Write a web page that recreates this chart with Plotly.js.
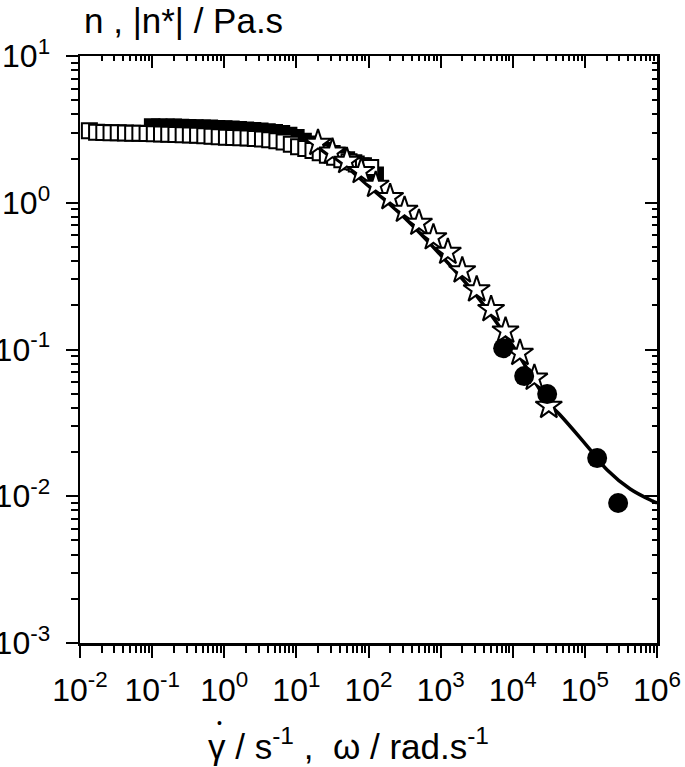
<!DOCTYPE html>
<html>
<head>
<meta charset="utf-8">
<script src="https://cdn.plot.ly/plotly-3.0.1.min.js"></script>
<style>
  body { margin: 0; background: #fff; }
  #viscosityPlot { width: 685px; height: 767px; }
</style>
</head>
<body>
<div id="viscosityPlot"></div>
<script>
// open squares (steady shear, first series)
const openSqRate = [0.01349, 0.01698, 0.02138, 0.02692, 0.03388, 0.04266, 0.05370, 0.06761, 0.08511, 0.1072,
    0.1349, 0.1698, 0.2138, 0.2692, 0.3388, 0.4266, 0.5370, 0.6761, 0.8511, 1.072,
    1.349, 1.698, 2.138, 2.692, 3.388, 4.266, 5.370, 6.761, 8.511, 10.72,
    13.49, 16.98, 21.38, 26.92, 33.88, 42.66, 53.70, 67.61, 85.11, 107.2];
const openSqVisc = [3.10, 3.02, 3.01, 3.00, 3.00, 2.99, 2.98, 2.97, 2.96, 2.95,
    2.94, 2.93, 2.92, 2.91, 2.90, 2.88, 2.86, 2.84, 2.82, 2.80,
    2.78, 2.77, 2.76, 2.74, 2.72, 2.69, 2.65, 2.59, 2.50, 2.41,
    2.34, 2.27, 2.19, 2.11, 2.04, 1.96, 1.90, 1.84, 1.79, 1.74];

// filled squares (steady shear, second series)
const fillSqRate = [0.1, 0.1259, 0.1585, 0.1995, 0.2512, 0.3162, 0.3981, 0.5012, 0.631, 0.7943,
    1, 1.259, 1.585, 1.995, 2.512, 3.162, 3.981, 5.012, 6.31, 7.943,
    10, 12.59, 15.85, 19.95, 25.12, 31.62, 39.81, 50.12, 63.1, 79.43, 100, 125.9];
const fillSqVisc = [3.31, 3.30, 3.30, 3.29, 3.28, 3.27, 3.26, 3.25, 3.24, 3.22,
    3.21, 3.19, 3.17, 3.14, 3.12, 3.10, 3.06, 3.02, 2.97, 2.90,
    2.80, 2.64, 2.52, 2.40, 2.28, 2.17, 2.07, 1.97, 1.88, 1.79, 1.68, 1.55];

// stars (oscillatory, |n*|)
const starFreq = [19.95, 31.62, 50.12, 79.43, 125.9, 199.5, 316.2, 501.2, 794.3, 1259,
    1995, 3162, 5012, 7943, 12590, 19950, 31620];
const starVisc = [2.55, 2.22, 1.92, 1.64, 1.32, 1.09, 0.893, 0.728, 0.580, 0.462,
    0.345, 0.256, 0.188, 0.134, 0.0946, 0.064, 0.0412];

// filled circles (high frequency)
const circleFreq = [7360, 14400, 30000, 148000, 289000];
const circleVisc = [0.102, 0.0659, 0.0497, 0.0182, 0.0090];

// fitted curve
const fitRate = [0.1, 0.316, 1, 3.16, 10, 31.6, 100, 316, 1000, 3160, 10000, 31600,
    45400, 86100, 148000, 204000, 425000, 857000, 1000000];
const fitVisc = [3.35, 3.32, 3.22, 3.02, 2.72, 2.08, 1.30, 0.79, 0.44, 0.232, 0.106, 0.0431,
    0.0358, 0.0250, 0.0182, 0.0151, 0.0112, 0.0093, 0.0090];

const xExp = [-2, -1, 0, 1, 2, 3, 4, 5, 6];
const yExp = [-3, -2, -1, 0, 1];

const font = 'Liberation Sans, Arial, sans-serif';

function minorTicks(exps) {
    const vals = [];
    for (let i = 0; i < exps.length - 1; i++) {
        for (let m = 2; m <= 9; m++) vals.push(m * Math.pow(10, exps[i]));
    }
    return vals;
}

function logAxis(exps, opts) {
    return Object.assign({
        type: 'log',
        range: [exps[0], exps[exps.length - 1]],
        tickmode: 'array',
        tickvals: exps.map(e => Math.pow(10, e)),
        ticktext: exps.map(e => '10<sup>' + e + '</sup>'),
        ticks: 'outside',
        ticklen: 12,
        tickwidth: 2,
        tickcolor: '#000',
        showline: true,
        linewidth: 2.5,
        linecolor: '#000',
        showgrid: false,
        zeroline: false,
        tickfont: { family: font, size: 32, color: '#000' },
        minor: {
            tickmode: 'array',
            tickvals: minorTicks(exps),
            ticks: 'outside',
            ticklen: 7,
            tickwidth: 2,
            tickcolor: '#000',
            showgrid: false
        }
    }, opts);
}

var fit = {
    x: fitRate, y: fitVisc,
    type: 'scatter', mode: 'lines',
    line: { color: '#000', width: 3.5, shape: 'spline', smoothing: 1 },
    hoverinfo: 'none'
};

var filledSquares = {
    x: fillSqRate, y: fillSqVisc,
    type: 'scatter', mode: 'markers',
    marker: { symbol: 'square', size: 15, color: '#000', line: { color: '#000', width: 1.5 } }
};

var openSquares = {
    x: openSqRate, y: openSqVisc,
    type: 'scatter', mode: 'markers',
    marker: { symbol: 'square', size: 15, color: '#fff', line: { color: '#000', width: 2 } }
};

var stars = {
    x: starFreq, y: starVisc,
    type: 'scatter', mode: 'markers',
    marker: { symbol: 'star', size: 20, color: '#fff', line: { color: '#000', width: 2 } }
};

var circles = {
    x: circleFreq, y: circleVisc,
    type: 'scatter', mode: 'markers',
    marker: { symbol: 'circle', size: 20, color: '#000' }
};

// empty trace so the top/right frame axes get drawn
var frame = { x: [], y: [], type: 'scatter', mode: 'markers', xaxis: 'x2', yaxis: 'y2', hoverinfo: 'none' };

var data = [fit, filledSquares, openSquares, stars, circles, frame];

var layout = {
    width: 685,
    height: 767,
    margin: { l: 80, r: 28, t: 56, b: 124 },
    paper_bgcolor: '#fff',
    plot_bgcolor: '#fff',
    showlegend: false,
    font: { family: font, color: '#000' },
    xaxis: logAxis(xExp, { ticklabelstandoff: 5 }),
    yaxis: logAxis(yExp, { ticklabelstandoff: 9 }),
    // top and right frame with inward ticks
    xaxis2: logAxis(xExp, {
        overlaying: 'x', side: 'top', anchor: 'y2',
        showticklabels: false, ticks: 'inside',
        minor: { tickmode: 'array', tickvals: minorTicks(xExp), ticks: 'inside', ticklen: 5, tickwidth: 2, tickcolor: '#000' }
    }),
    yaxis2: logAxis(yExp, {
        overlaying: 'y', side: 'right', anchor: 'x2',
        showticklabels: false, ticks: 'inside',
        minor: { tickmode: 'array', tickvals: minorTicks(yExp), ticks: 'inside', ticklen: 5, tickwidth: 2, tickcolor: '#000' }
    }),
    annotations: [
        {
            text: 'n , |n*| / Pa.s',
            xref: 'paper', yref: 'paper',
            x: 0.003, y: 1.06,
            xanchor: 'left', yanchor: 'middle',
            showarrow: false,
            font: { family: font, size: 35, color: '#000' }
        },
        {
            text: 'γ / s<sup>-1</sup> ,  ω / rad.s<sup>-1</sup>',
            xref: 'paper', yref: 'paper',
            x: 0.466, y: -0.172,
            xanchor: 'center', yanchor: 'middle',
            showarrow: false,
            font: { family: font, size: 35, color: '#000' }
        },
        {
            // dot over the gamma
            text: '•',
            xref: 'paper', yref: 'paper',
            x: 0.241, y: -0.136,
            xanchor: 'center', yanchor: 'middle',
            showarrow: false,
            font: { family: font, size: 14, color: '#000' }
        }
    ]
};

Plotly.newPlot('viscosityPlot', data, layout, { staticPlot: true });
</script>
</body>
</html>
